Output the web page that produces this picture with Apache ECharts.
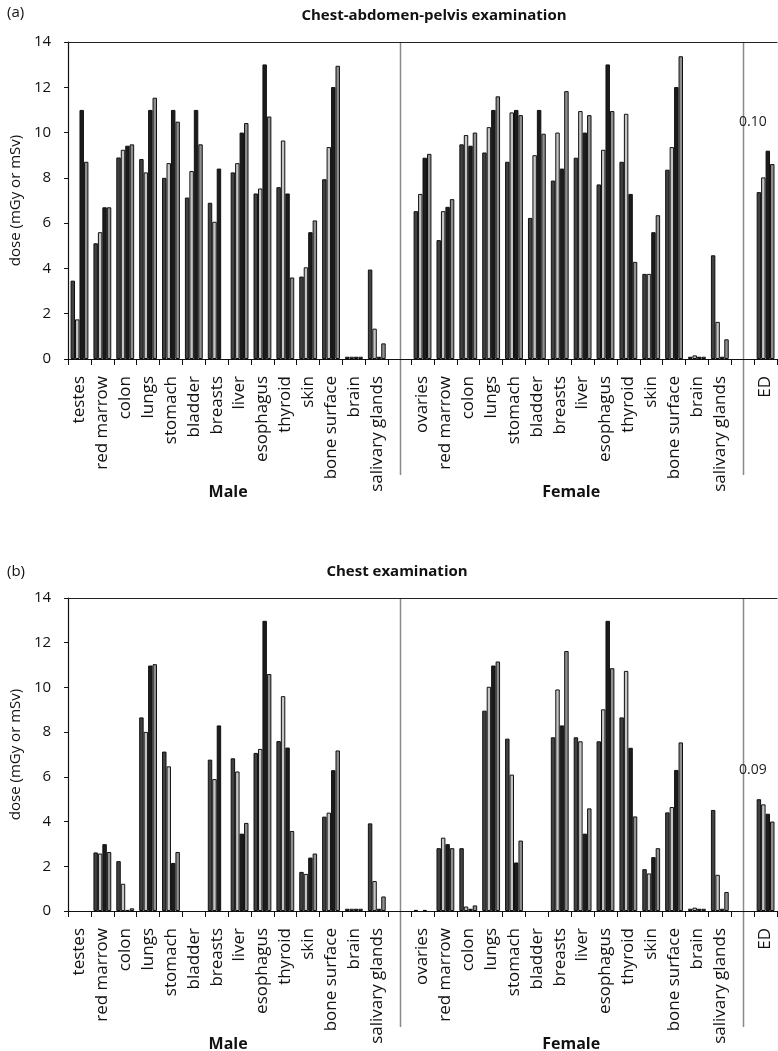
<!DOCTYPE html>
<html>
<head>
    <meta charset="utf-8">
    <title>Organ doses</title>
    <script src="https://cdn.jsdelivr.net/npm/echarts@6/dist/echarts.min.js"></script>
    <style>html, body { margin: 0; padding: 0; background: #fff; }</style>
</head>
<body>
    <div id="chart" style="width: 778px;height:1051px;"></div>
    <script type="text/javascript">
        // categories: 14 male organs, a spacer, 14 female organs, a spacer, ED
        var maleOrgans = ['testes', 'red marrow', 'colon', 'lungs', 'stomach', 'bladder', 'breasts',
            'liver', 'esophagus', 'thyroid', 'skin', 'bone surface', 'brain', 'salivary glands'];
        var femaleOrgans = ['ovaries', 'red marrow', 'colon', 'lungs', 'stomach', 'bladder', 'breasts',
            'liver', 'esophagus', 'thyroid', 'skin', 'bone surface', 'brain', 'salivary glands'];
        var categories = maleOrgans.concat([' '], femaleOrgans, ['  '], ['ED']);
        var yTicks = [0, 2, 4, 6, 8, 10, 12, 14];

        // (a) chest-abdomen-pelvis examination, four bars per organ
        var cap1 = [3.46, 5.11, 8.9, 8.83, 8.0, 7.13, 6.9, 8.24, 7.31, 7.59, 3.64, 7.94, 0.1, 3.95, null,
            6.53, 5.25, 9.48, 9.12, 8.71, 6.23, 7.88, 8.89, 7.71, 8.71, 3.76, 8.36, 0.1, 4.58, null, 7.37];
        var cap2 = [1.75, 5.6, 9.24, 8.24, 8.65, 8.3, 6.06, 8.65, 7.53, 9.65, 4.05, 9.36, 0.1, 1.34, null,
            7.29, 6.53, 9.89, 10.24, 10.89, 9.0, 10.0, 10.95, 9.24, 10.83, 3.76, 9.36, 0.16, 1.64, null, 8.02];
        var cap3 = [11.0, 6.7, 9.42, 11.0, 11.0, 11.0, 8.41, 10.0, 13.01, 7.31, 5.6, 12.01, 0.1, 0.1, null,
            8.89, 6.72, 9.42, 11.0, 11.0, 11.0, 8.41, 10.0, 13.01, 7.29, 5.6, 12.01, 0.1, 0.1, null, 9.2];
        var cap4 = [8.71, 6.7, 9.48, 11.54, 10.48, 9.48, 0, 10.42, 10.71, 3.6, 6.12, 12.95, 0.1, 0.69, null,
            9.06, 7.06, 10.0, 11.6, 10.77, 9.95, 11.83, 10.77, 10.95, 4.29, 6.35, 13.37, 0.1, 0.87, null, 8.61];

        // (b) chest examination
        var chest1 = [0, 2.62, 2.23, 8.66, 7.13, 0, 6.77, 6.83, 7.07, 7.6, 1.75, 4.22, 0.1, 3.92, null,
            0.05, 2.81, 2.81, 8.96, 7.71, 0, 7.77, 7.77, 7.59, 8.66, 1.87, 4.41, 0.1, 4.52, null, 5.0];
        var chest2 = [0, 2.57, 1.22, 8.01, 6.47, 0, 5.9, 6.24, 7.25, 9.61, 1.66, 4.4, 0.1, 1.34, null,
            0, 3.28, 0.2, 10.03, 6.1, 0, 9.91, 7.59, 9.02, 10.74, 1.68, 4.65, 0.15, 1.62, null, 4.77];
        var chest3 = [0, 2.99, 0.05, 10.98, 2.15, 0, 8.3, 3.46, 12.98, 7.31, 2.39, 6.3, 0.1, 0.1, null,
            0.05, 2.99, 0.1, 10.98, 2.17, 0, 8.3, 3.46, 12.98, 7.3, 2.41, 6.31, 0.1, 0.1, null, 4.35];
        var chest4 = [0, 2.64, 0.12, 11.04, 2.64, 0, 0, 3.94, 10.6, 3.58, 2.57, 7.18, 0.1, 0.65, null,
            0, 2.81, 0.25, 11.16, 3.15, 0, 11.63, 4.59, 10.86, 4.23, 2.81, 7.54, 0.1, 0.85, null, 4.0];

        // effective dose annotations over the ED group
        var edLabels = ['0.10', '0.09'];
        var edLabelLevel = [10.45, 6.3];

        var font = '"Open Sans", sans-serif';
        var barColors = ['#414141', '#c4c4c4', '#1c1c1c', '#8f8f8f'];
        var spacerIdx = [14, 29];
        var edIdx = 30;

        var chart = echarts.init(document.getElementById('chart'));

        function bottomAxis(grid) {
            return {
                type: 'category', gridIndex: grid, data: categories, position: 'bottom',
                axisLine: { lineStyle: { color: '#111', width: 1.2 } },
                axisTick: { show: true, length: 6, lineStyle: { color: '#111' } },
                axisLabel: { interval: 0, rotate: 90, margin: 17, fontSize: 17, color: '#111', fontFamily: font }
            };
        }
        function topAxis(grid) {
            return {
                type: 'category', gridIndex: grid, data: categories, position: 'top',
                axisLine: { lineStyle: { color: '#222', width: 1.2 } },
                axisTick: { show: false }, axisLabel: { show: false }
            };
        }
        function valueAxis(grid) {
            return {
                type: 'value', gridIndex: grid, min: yTicks[0], max: yTicks[yTicks.length - 1], interval: 2,
                name: 'dose (mGy or mSv)', nameLocation: 'middle', nameGap: 45,
                nameTextStyle: { fontSize: 15, color: '#111', fontFamily: font },
                axisLine: { show: true, lineStyle: { color: '#111', width: 1.2 } },
                axisTick: { show: true, length: 4, lineStyle: { color: '#111' } },
                splitLine: { show: false },
                axisLabel: { fontSize: 15, margin: 17, color: '#111', fontFamily: font }
            };
        }
        function bars(list, xIdx, yIdx, edText, edLevel) {
            return list.map(function (values, i) {
                var s = {
                    type: 'bar', name: 'series ' + (i + 1), xAxisIndex: xIdx, yAxisIndex: yIdx,
                    // zero doses are left undrawn, as in the original
                    data: values.map(function (v) { return v === 0 ? '-' : v; }),
                    barGap: '0%', barCategoryGap: '22%', silent: true,
                    itemStyle: { color: barColors[i], borderColor: '#111', borderWidth: 1 }
                };
                if (i === 0) {
                    s.markPoint = {
                        silent: true, symbol: 'circle', symbolSize: 1,
                        itemStyle: { color: 'rgba(0,0,0,0)' },
                        label: { show: true, position: 'inside', offset: [-6, 0], fontSize: 14,
                            color: '#222', fontFamily: font, formatter: edText },
                        data: [{ coord: [edIdx, edLevel] }]
                    };
                }
                return s;
            });
        }

        var titleStyle = { fontSize: 15, fontWeight: 'bold', color: '#111', fontFamily: font };
        var panelStyle = { fontSize: 15, fontWeight: 'normal', color: '#111', fontFamily: font };
        var option = {
            animation: false,
            backgroundColor: '#fff',
            textStyle: { fontFamily: font },
            title: [
                { text: '(a)', left: 2, top: 0, textStyle: panelStyle },
                { text: 'Chest-abdomen-pelvis examination', left: 429, top: 3, textAlign: 'center', textStyle: titleStyle },
                { text: '(b)', left: 2, top: 559, textStyle: panelStyle },
                { text: 'Chest examination', left: 392, top: 559, textAlign: 'center', textStyle: titleStyle }
            ],
            grid: [
                { left: 66, top: 42, width: 711, height: 317 },
                { left: 66, top: 598, width: 711, height: 313 }
            ],
            xAxis: [bottomAxis(0), topAxis(0), bottomAxis(1), topAxis(1)],
            yAxis: [valueAxis(0), valueAxis(1)],
            series: bars([cap1, cap2, cap3, cap4], 0, 0, edLabels[0], edLabelLevel[0])
                .concat(bars([chest1, chest2, chest3, chest4], 2, 1, edLabels[1], edLabelLevel[1]))
        };
        chart.setOption(option);

        // separators and Male / Female captions, placed through the axes' own scales
        var graphics = [];
        [[0, 0], [2, 1]].forEach(function (p) {
            var xa = { xAxisIndex: p[0] }, ya = { yAxisIndex: p[1] };
            var yTop = chart.convertToPixel(ya, yTicks[yTicks.length - 1]);
            var yZero = chart.convertToPixel(ya, 0);
            spacerIdx.forEach(function (idx) {
                var x = Math.round(chart.convertToPixel(xa, idx)) + 0.5;
                graphics.push({ type: 'line', silent: true,
                    shape: { x1: x, y1: yTop, x2: x, y2: yZero + 116 },
                    style: { stroke: '#8a8a8a', lineWidth: 1.5 } });
            });
            var groups = [['Male', 0, 13], ['Female', 15, 28]];
            groups.forEach(function (g) {
                var cx = (chart.convertToPixel(xa, g[1]) + chart.convertToPixel(xa, g[2])) / 2;
                graphics.push({ type: 'text', silent: true, x: cx, y: yZero + 133,
                    style: { text: g[0], fontSize: 16, fontWeight: 'bold', fill: '#111', fontFamily: font,
                        textAlign: 'center', textVerticalAlign: 'middle' } });
            });
        });
        chart.setOption({ graphic: graphics });
    </script>
</body>
</html>
